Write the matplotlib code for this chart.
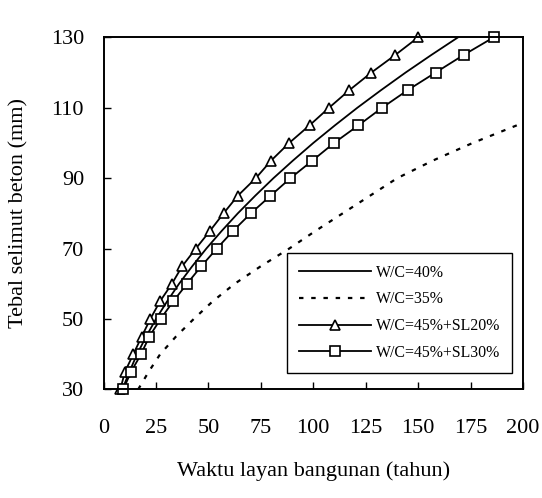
import matplotlib
matplotlib.use("Agg")
import matplotlib.pyplot as plt

plt.rcParams['font.family'] = ['Liberation Serif', 'DejaVu Serif']

cover = [30, 35, 40, 45, 50, 55, 60, 65, 70, 75, 80, 85, 90, 95, 100, 105, 110, 115, 120, 125, 130]
t_wc40 = [9, 12.3, 16, 20.3, 25, 30.3, 36, 42.3, 49, 56.3, 64, 72.3, 81, 90.3, 100, 110.3, 121, 132.3, 144, 156.3, 169]
cover35 = [30, 35, 40, 45, 50, 55, 60, 65, 70, 75, 80, 85, 90, 95, 100, 105, 105.8]
t_wc35 = [16.5, 21.5, 27, 34.5, 43, 52, 62.5, 75, 88.5, 101, 114, 127, 140, 157, 176, 197, 200]
t_sl20 = [8, 10.2, 14.2, 18.2, 22.3, 26.9, 32.6, 37.5, 44, 50.7, 57.2, 64, 72.6, 79.9, 88.5, 98.2, 107.5, 117.2, 127.7, 139.1, 150]
t_sl30 = [9.4, 13.1, 17.9, 21.8, 27.2, 33.2, 39.8, 46.6, 54, 61.7, 70.2, 79.6, 89.1, 99.6, 109.9, 121.5, 132.8, 145, 158.3, 171.7, 186]
labels = ['W/C=40%', 'W/C=35%', 'W/C=45%+SL20%', 'W/C=45%+SL30%']
xticks = [0, 25, 50, 75, 100, 125, 150, 175, 200]
yticks = [30, 50, 70, 90, 110, 130]

fig = plt.figure(figsize=(5.42, 4.98), dpi=100)
ax = fig.add_axes([0.191, 0.218, 0.774, 0.707])

ax.plot(t_wc40, cover, color='black', lw=1.3, label=labels[0])
ax.plot(t_wc35, cover35, color='black', lw=1.6, linestyle=(0, (2, 3.5)), label=labels[1])
ax.plot(t_sl20, cover, color='black', lw=1.3, marker='^', markersize=7,
        markerfacecolor='white', markeredgecolor='black', markeredgewidth=1.2,
        clip_on=False, label=labels[2])
ax.plot(t_sl30, cover, color='black', lw=1.3, marker='s', markersize=7.6,
        markerfacecolor='white', markeredgecolor='black', markeredgewidth=1.2,
        clip_on=False, label=labels[3])

ax.set_xlim(0, 200)
ax.set_ylim(30, 130)
ax.set_xticks(xticks)
ax.set_yticks(yticks)
ax.tick_params(axis='x', direction='in', length=5, width=1, labelsize=16, pad=21)
ax.tick_params(axis='y', direction='in', length=5, width=1, labelsize=16, pad=14)
for s in ax.spines.values():
    s.set_linewidth(1.4)

ax.set_xlabel('Waktu layan bangunan (tahun)', fontsize=16, labelpad=17)
ax.set_ylabel('Tebal selimut beton (mm)', fontsize=16, labelpad=16)

leg = ax.legend(loc='lower right', bbox_to_anchor=(0.974, 0.047), borderaxespad=0,
                fontsize=11.4, frameon=True, fancybox=False, edgecolor='black',
                handlelength=4.55, handletextpad=0.3, labelspacing=0.68,
                numpoints=1, borderpad=0.75)
leg.get_frame().set_linewidth(1.0)
leg.get_frame().set_alpha(1)

fig.savefig('out.png', dpi=100)
